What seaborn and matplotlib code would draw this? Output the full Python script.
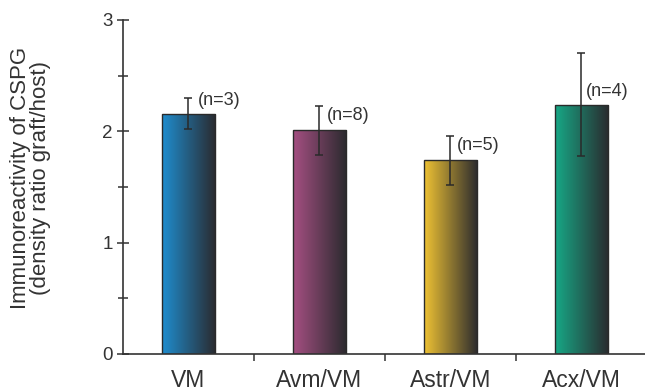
import numpy as np
import pandas as pd
import matplotlib
matplotlib.use("Agg")
import matplotlib.pyplot as plt
import seaborn as sns
from matplotlib.colors import LinearSegmentedColormap

# Group data
groups = ["VM", "Avm/VM", "Astr/VM", "Acx/VM"]
means = [2.16, 2.01, 1.74, 2.24]
errors = [0.14, 0.22, 0.22, 0.46]
n_labels = ["(n=3)", "(n=8)", "(n=5)", "(n=4)"]
colors = ["#1f8dcf", "#a54f82", "#efc233", "#17a886"]

sns.set_theme(style="white")
plt.rcParams["font.family"] = ["Liberation Sans", "DejaVu Sans"]

text_color = "#333333"
df = pd.DataFrame({"group": groups, "mean": means})

fig = plt.figure(figsize=(6.45, 3.92), dpi=100)
ax = fig.add_axes([123 / 645, 1 - 354 / 392, 522 / 645, (354 - 20) / 392])

sns.barplot(data=df, x="group", y="mean", ax=ax, width=0.405,
            color="white", edgecolor="#2a2a2a", linewidth=1.0, errorbar=None)

# Horizontal gradient fill: colour on the left fading to near-black on the right
grad = np.linspace(0, 1, 256).reshape(1, -1)
for patch, col in zip(ax.patches, colors):
    cmap = LinearSegmentedColormap.from_list("g", [col, "#2a2a2e"])
    x0, y0 = patch.get_x(), patch.get_y()
    w, h = patch.get_width(), patch.get_height()
    im = ax.imshow(grad, cmap=cmap, aspect="auto",
                   extent=[x0, x0 + w, y0, y0 + h], zorder=patch.get_zorder() + 0.1)
    im.set_clip_path(patch)
    patch.set_facecolor("none")
    patch.set_zorder(patch.get_zorder() + 0.2)

# Error bars
xs = np.arange(len(groups))
ax.errorbar(xs, means, yerr=errors, fmt="none", ecolor="#2a2a2a",
            elinewidth=1.1, capsize=3, capthick=1.1, zorder=5)

# Sample size annotations
label_y = [2.28, 2.14, 1.87, 2.36]
label_dx = [0.07, 0.06, 0.05, 0.035]
for x, dx, y, t in zip(xs, label_dx, label_y, n_labels):
    ax.text(x + dx, y, t, fontsize=13, color=text_color, va="center", ha="left")

ax.set_xlim(-0.5, 3.485)
ax.set_ylim(0, 3)
ax.set_yticks([0, 1, 2, 3])
ax.set_yticks([0.5, 1.5, 2.5], minor=True)
ax.set_xticks(xs)
ax.set_xticks([0.5, 1.5, 2.5], minor=True)
ax.set_xticklabels(groups)
ax.set_xlabel("")
ax.set_ylabel("Immunoreactivity of CSPG\n(density ratio graft/host)",
              fontsize=16, color=text_color, linespacing=0.95)
ax.yaxis.set_label_coords(-0.138, 0.527)

for s in ["top", "right"]:
    ax.spines[s].set_visible(False)
for s in ["left", "bottom"]:
    ax.spines[s].set_color("#333333")
    ax.spines[s].set_linewidth(1.2)

ax.tick_params(axis="y", which="major", direction="inout", length=9, width=1.1,
               color="#333333", labelsize=13.5, labelcolor=text_color, pad=3, left=True)
ax.tick_params(axis="y", which="minor", direction="inout", length=7, width=1.1,
               color="#333333", left=True)
ax.tick_params(axis="x", which="major", length=0, labelsize=16.5,
               labelcolor=text_color, pad=11)
ax.tick_params(axis="x", which="minor", direction="out", length=5, width=1.1,
               color="#333333", bottom=True)

fig.savefig("out.png", dpi=100)
